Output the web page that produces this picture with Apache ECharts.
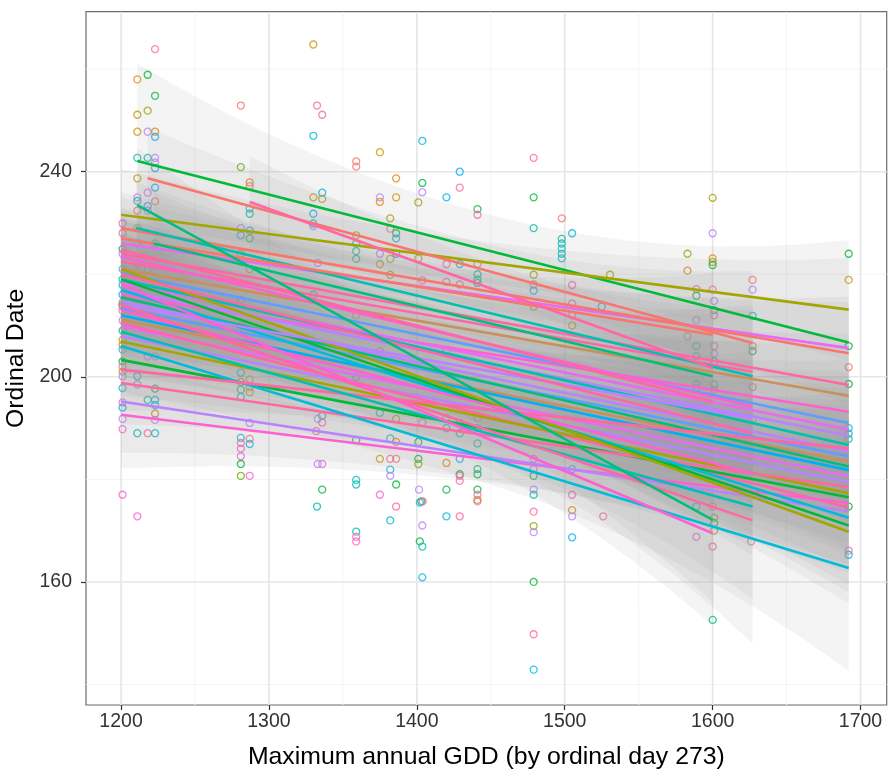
<!DOCTYPE html>
<html><head><meta charset="utf-8">
<script src="https://cdn.jsdelivr.net/npm/echarts@6/dist/echarts.min.js"></script>
<style>html,body{margin:0;padding:0;background:#fff}#chart{width:888px;height:782px}</style>
</head><body><div id="chart"></div>
<script>
// axis ticks and grid
const xMajor = [1200, 1300, 1400, 1500, 1600, 1700];
const xMinor = [1250, 1350, 1450, 1550, 1650];
const yMajor = [160, 200, 240];
const yMinor = [140, 180, 220, 260];

// group colours (hue palette)
const palette = ['#F8766D', '#E58700', '#C99800', '#A3A500', '#6BB100', '#00BA38', '#00BF7D', '#00C0AF',
  '#00BCD8', '#00B0F6', '#619CFF', '#B983FF', '#E76BF3', '#FD61D1', '#FF67A4', '#C8915A'];

// fitted regression lines, one per group: start GDD/date, end GDD/date, colour
const fitX0 = [1211, 1200, 1200, 1200, 1200, 1200, 1200, 1200, 1200, 1200,
  1200, 1200, 1200, 1200, 1200, 1200, 1200, 1200, 1200, 1200,
  1200, 1200, 1200, 1200, 1200, 1200, 1200, 1200, 1200,
  1218, 1200, 1210, 1200, 1200, 1200, 1200, 1200, 1200,
  1200, 1287, 1222, 1200, 1211, 1200];
const fitY0 = [242.1, 231.6, 226.0, 229.0, 224.0, 221.0, 216.0, 220.2, 218.3, 217.0,
  219.0, 214.7, 213.4, 211.1, 215.5, 212.0, 209.8, 207.9, 210.5, 206.9,
  203.3, 192.6, 195.2, 198.8, 217.0, 219.0, 221.0, 206.0, 201.4,
  238.7, 222.5, 229.0, 223.4, 214.0, 220.0, 213.0, 208.8, 214.0,
  227.0, 234.1, 226.0, 224.8, 233.5, 218.0];
const fitX1 = [1692, 1692, 1692, 1692, 1692, 1692, 1692, 1692, 1692, 1692,
  1692, 1692, 1692, 1692, 1692, 1692, 1692, 1692, 1692, 1692,
  1692, 1692, 1692, 1692, 1692, 1692, 1692, 1692, 1692,
  1627, 1627, 1627, 1627, 1627, 1627, 1627, 1627, 1627,
  1600, 1600, 1600, 1600, 1600, 1600];
const fitY1 = [206.7, 213.1, 205.6, 204.6, 198.4, 196.3, 193.2, 191.0, 189.7, 188.5,
  186.7, 185.5, 184.5, 183.5, 182.5, 181.8, 180.6, 179.5, 174.5, 177.3,
  176.5, 175.4, 173.8, 178.5, 172.5, 171.0, 169.8, 162.7, 186.0,
  206.6, 201.0, 200.1, 194.2, 191.9, 189.0, 181.2, 174.7, 172.0,
  208.2, 201.7, 200.1, 195.2, 172.1, 169.5];
const fitColor = [5, 3, 12, 0, 14, 15, 13, 10, 12, 11,
  7, 11, 10, 15, 6, 9, 12, 11, 14, 3,
  5, 13, 11, 14, 8, 5, 3, 8, 14,
  0, 14, 7, 13, 11, 14, 13, 7, 14,
  0, 14, 6, 14, 6, 13];
// confidence band half-widths at start, middle and end of each fit
const bandW0 = [19, 9, 7, 7, 7, 7, 7, 7, 7, 7,
  8, 7, 7, 7, 7, 7, 7, 7, 8, 7,
  7, 10.5, 10, 8, 9, 9, 10, 9, 8,
  10, 8, 9, 8, 8, 8, 8, 8, 9,
  8, 9, 10, 8, 11, 9];
const bandWm = [7, 4, 3.5, 3.5, 3.5, 3.5, 3.5, 3.5, 3.5, 3.5,
  4, 3.5, 3.5, 3.5, 3.5, 3.5, 3.5, 3.5, 4, 3.5,
  3.5, 4.5, 4.5, 4, 4.5, 4.5, 5, 5, 4,
  5, 4.5, 5, 4.5, 4.5, 4.5, 4.5, 4.5, 5,
  4.5, 5, 5, 4.5, 6, 5];
const bandW1 = [20, 10, 10, 10, 10, 10, 10, 10, 10, 10,
  11, 10, 10, 10, 11, 10, 10, 10, 12, 11,
  11, 12, 12, 11, 13, 13, 14, 20, 11,
  14, 13, 13, 13, 13, 14, 16, 18, 24,
  12, 12, 12, 13, 16, 18];

// observations: [GDD, ordinal date, group colour]
const points = [
  [1201,229.9,13],[1201,228,14],[1201,224.9,5],[1201,224,11],[1201,221,10],[1201,219,7],[1201,217.9,8],[1201,216,9],
  [1201,214.5,2],[1201,214,7],[1201,213.7,14],[1201,212.9,0],[1201,211,11],[1201,209,6],[1201,207.2,2],[1201,206.2,1],
  [1201,205.3,8],[1201,203,5],[1201,202,14],[1201,201,2],[1201,200.1,11],[1201,197.8,8],[1201,195,13],[1201,194,9],
  [1201,191.8,11],[1201,189.8,13],[1201,177,13],
  [1211,258,1],[1211,251.1,2],[1211,247.8,2],[1211,242.7,7],[1211,238.7,2],[1211,235,11],[1211,234.3,7],[1211,232.4,0],
  [1211,229,3],[1211,226,9],[1211,222,14],[1211,215,10],[1211,200.1,7],[1211,198.5,11],[1211,189,7],[1211,172.8,13],
  [1218,258.9,5],[1218,251.9,3],[1218,247.8,11],[1218,242.7,7],[1218,235.9,12],[1218,233.3,9],[1218,232.4,11],
  [1218,221,6],[1218,214,2],[1218,204,11],[1218,195.5,7],[1218,189,14],
  [1223,263.9,14],[1223,254.8,5],[1223,247.8,1],[1223,246.8,9],[1223,242.7,11],[1223,241.8,11],[1223,240.7,9],
  [1223,236.9,9],[1223,234.2,0],[1223,226,6],[1223,218,0],[1223,204,11],[1223,197.7,5],[1223,195.5,9],[1223,194.5,8],
  [1223,192.8,1],[1223,191.6,11],[1223,189,8],
  [1281,252.9,0],[1281,240.9,4],[1281,229,11],[1281,227.6,9],[1281,224,2],[1281,215,9],[1281,210,12],[1281,200.8,7],
  [1281,199,3],[1281,197.5,6],[1281,196.1,7],[1281,188.1,8],[1281,187.1,14],[1281,186,13],[1281,184.5,13],[1281,183,5],
  [1281,180.7,4],
  [1287,237.9,1],[1287,237.2,0],[1287,232.8,7],[1287,231.8,7],[1287,228.5,9],[1287,227,5],[1287,221,3],[1287,207,0],
  [1287,199.5,2],[1287,198,2],[1287,197,2],[1287,191,11],[1287,187.9,14],[1287,186.9,8],[1287,180.7,13],
  [1330,264.8,2],[1332.5,252.9,14],[1336,251.1,14],[1330,247,8],[1330,235,2],[1336,235.9,9],[1336,234.7,3],
  [1330,231.8,9],[1330,229.9,7],[1330,229.4,11],[1333,222.2,11],[1330,216,7],[1330,210,2],[1336,192.4,7],
  [1336,191.1,14],[1333,191.8,11],[1332,189.4,14],[1333,183,11],[1336,183,12],[1336,178,5],[1332.5,174.7,7],
  [1359,242,0],[1359,241,0],[1359,227.6,3],[1359,226,7],[1359,224.5,7],[1359,223,6],[1359,212,0],[1359,200,9],
  [1359,187.7,5],[1359,179.9,7],[1359,179,7],[1359,169.8,7],[1359,168.8,14],[1359,167.9,13],
  [1375,243.8,2],[1375,235,11],[1375,234.1,1],[1375,224,11],[1375,222,2],[1375,205,12],[1375,193,7],[1375,184,2],[1375,177,13],
  [1382,230.9,3],[1382,228.9,0],[1382,223,3],[1382,219.9,3],[1382,188,7],[1382,184,14],[1382,181.9,8],[1382,180.7,11],[1382,172,8],
  [1386,238.7,1],[1386,235,2],[1386,228,5],[1386,227,9],[1386,224,9],[1386,191.8,3],[1386,187.3,1],[1386,184,0],
  [1386,179,5],[1386,174.7,14],
  [1403.7,246,8],[1403.7,237.8,5],[1403.7,236,11],[1401,234,3],[1401,223.1,3],[1403.7,218.8,14],[1403.7,191.1,14],
  [1401,187.3,5],[1401,184,5],[1401,183,4],[1401.5,178,11],[1403,175.7,5],[1402,175.5,8],[1404,175.7,14],
  [1403.7,171,11],[1402,167.9,5],[1403.7,166.9,7],[1403.7,160.9,8],
  [1420,235,9],[1420,222,14],[1420,218.5,14],[1420,205,10],[1420,192,3],[1420,190,7],[1420,183.2,1],[1420,178,5],[1420,172.8,8],
  [1429,240,9],[1429,236.9,14],[1429,222,8],[1429,218,14],[1429,191,7],[1429,189,7],[1429,184,9],[1429,181,5],
  [1429,180.7,14],[1429,179.7,14],[1429,172.8,14],
  [1441,232.7,5],[1441,231.6,14],[1441,222,0],[1441,220,7],[1441,219,6],[1441,218.3,7],[1441,192,14],[1441,190,7],
  [1441,187,7],[1441,182,6],[1441,181,5],[1441,178,5],[1441,177,14],[1441,176,3],[1441,175.7,14],
  [1479,242.7,14],[1479,235,5],[1479,229,7],[1479,219.9,3],[1479,218,14],[1479,216.8,9],[1479,213.7,3],[1479,184,14],
  [1479,182,11],[1479,180.7,5],[1479,178,11],[1479,177,7],[1479,173.7,14],[1479,170.9,3],[1479,169.7,11],
  [1479,160,5],[1479,149.8,14],[1479,142.9,8],
  [1498,230.9,0],[1498,226.9,7],[1498,226,7],[1498,225,8],[1498,224,7],[1498,223.1,8],
  [1505,228,8],[1505,217.9,14],[1505,214.3,14],[1505,212,2],[1505,210,2],[1505,182,9],[1505,177,14],[1505,174,1],
  [1505,172.8,11],[1505,168.7,9],
  [1530.6,219.9,3],[1525,213.7,9],[1526,172.8,14],
  [1583,224,3],[1583,220.7,1],[1589,217.1,14],[1589,215.8,5],[1589,211.1,11],[1583,207.9,0],[1589,206,7],[1589,204,7],
  [1589,198.5,7],[1589,197.8,7],[1589,174.7,9],[1589,168.8,13],
  [1600,234.9,3],[1600,228,11],[1600,223.1,1],[1600,222.4,3],[1600,221.8,5],[1600,217,14],[1601,214.8,11],[1601,213,7],
  [1601,212,14],[1601,206,0],[1601,204.5,11],[1601,203,7],[1601,198.5,7],[1601,197.5,0],[1600,174.7,14],
  [1601,172.5,4],[1601,171.5,5],[1601,170,3],[1600,166.9,14],[1600,152.6,6],
  [1627,218.9,0],[1627,217,11],[1627,211.9,8],[1627,206,0],[1627,205,5],[1627,198,0],[1627,191.8,11],[1626,167.9,14],
  [1692,224,5],[1692,218.9,2],[1692,206,5],[1692,201.9,0],[1692,198.6,5],[1692,190,8],[1692,188.9,8],[1692,187.9,7],
  [1692,174.7,5],[1692,166.1,14],[1692,165.3,8]
];

const chart = echarts.init(document.getElementById('chart'), null, { renderer: 'canvas' });
const FONT = '"Liberation Sans", Arial, sans-serif';

function gridLine(isX, width, color) {
  return function (params, api) {
    const v = api.value(0);
    const cs = params.coordSys;
    if (isX) {
      const p = api.coord([v, 200])[0];
      return { type: 'line', shape: { x1: p, y1: cs.y, x2: p, y2: cs.y + cs.height },
        style: { stroke: color, lineWidth: width }, silent: true };
    }
    const p = api.coord([1400, v])[1];
    return { type: 'line', shape: { x1: cs.x, y1: p, x2: cs.x + cs.width, y2: p },
      style: { stroke: color, lineWidth: width }, silent: true };
  };
}

// confidence ribbon: narrow near the middle of the fit, widening toward both ends
function bandShape(params, api) {
  const i = api.value(0);
  const x0 = fitX0[i], x1 = fitX1[i], y0 = fitY0[i], y1 = fitY1[i];
  const up = [], lo = [];
  const N = 16;
  for (let k = 0; k <= N; k++) {
    const t = k / N;
    const x = x0 + (x1 - x0) * t;
    const y = y0 + (y1 - y0) * t;
    const s = (2 * t - 1) * (2 * t - 1);
    const w = bandWm[i] + ((t < 0.5 ? bandW0[i] : bandW1[i]) - bandWm[i]) * s;
    up.push(api.coord([x, y + w]));
    lo.push(api.coord([x, y - w]));
  }
  return { type: 'polygon', shape: { points: up.concat(lo.reverse()) },
    style: { fill: 'rgba(153,153,153,0.11)' }, silent: true };
}

function fitShape(params, api) {
  const i = api.value(0);
  const a = api.coord([fitX0[i], fitY0[i]]);
  const b = api.coord([fitX1[i], fitY1[i]]);
  return { type: 'line', shape: { x1: a[0], y1: a[1], x2: b[0], y2: b[1] },
    style: { stroke: palette[fitColor[i]], lineWidth: 2.6 }, silent: true };
}

const idx = fitX0.map((_, i) => [i]);
const plain = v => String(v);

chart.setOption({
  animation: false,
  backgroundColor: '#fff',
  grid: { left: 86, right: 1.3, top: 11.7, bottom: 77, outerBoundsMode: 'none', containLabel: false,
    show: true, borderColor: '#6b6b6b', borderWidth: 1.2, backgroundColor: '#fff' },
  xAxis: {
    type: 'value', min: 1176.3, max: 1717.7,
    name: 'Maximum annual GDD (by ordinal day 273)', nameLocation: 'middle', nameGap: 40,
    nameTextStyle: { fontFamily: FONT, fontSize: 24.8, color: '#000' },
    axisLine: { show: false },
    axisTick: { show: true, customValues: xMajor, length: 5, lineStyle: { color: '#333', width: 1.2 } },
    axisLabel: { customValues: xMajor, formatter: plain, fontFamily: FONT, fontSize: 19.5, color: '#333', margin: 7 },
    splitLine: { show: false }
  },
  yAxis: {
    type: 'value', min: 136.0, max: 271.2,
    name: 'Ordinal Date', nameLocation: 'middle', nameGap: 41, nameRotate: 90,
    nameTextStyle: { fontFamily: FONT, fontSize: 24.8, color: '#000' },
    axisLine: { show: false },
    axisTick: { show: true, customValues: yMajor, length: 5, lineStyle: { color: '#333', width: 1.2 } },
    axisLabel: { customValues: yMajor, formatter: plain, fontFamily: FONT, fontSize: 19.5, color: '#333', margin: 14 },
    splitLine: { show: false }
  },
  series: [
    { type: 'custom', z: 1, clip: true, data: xMinor.map(v => [v]), renderItem: gridLine(true, 1, '#f4f4f4') },
    { type: 'custom', z: 1, clip: true, data: yMinor.map(v => [v]), renderItem: gridLine(false, 1, '#f4f4f4') },
    { type: 'custom', z: 1, clip: true, data: xMajor.map(v => [v]), renderItem: gridLine(true, 1.6, '#e6e6e6') },
    { type: 'custom', z: 1, clip: true, data: yMajor.map(v => [v]), renderItem: gridLine(false, 1.6, '#e6e6e6') },
    {
      type: 'scatter', z: 2, symbol: 'circle', symbolSize: 7,
      data: points.map(p => ({ value: [p[0], p[1]], itemStyle: { borderColor: palette[p[2]] } })),
      itemStyle: { color: 'rgba(255,255,255,0)', borderWidth: 1.3 }, silent: true
    },
    { type: 'custom', z: 3, clip: true, data: idx, renderItem: bandShape },
    { type: 'custom', z: 4, clip: true, data: idx, renderItem: fitShape }
  ]
});
</script></body></html>
